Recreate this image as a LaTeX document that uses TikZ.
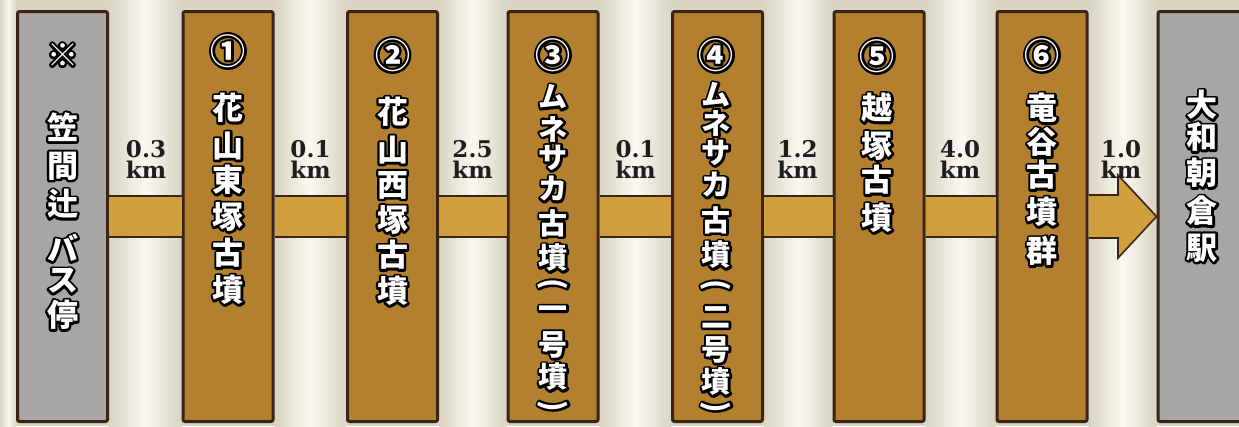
\documentclass[tikz,border=0pt]{standalone}
\usepackage{fontspec}
\newfontfamily\jpfont{Noto Sans CJK JP}
\newfontfamily\numfont{DejaVu Serif}
\usetikzlibrary{calc}
\pgfdeclarelayer{background}
\pgfsetlayers{background,main}
\definecolor{bgc}{HTML}{D9D4C3}
\definecolor{bglight}{HTML}{FAF8F0}
\definecolor{brownbox}{HTML}{B38030}
\definecolor{graybox}{HTML}{A7A6A5}
\definecolor{darkb}{HTML}{3A2416}
\definecolor{gold}{HTML}{CF9F3E}
\definecolor{labc}{HTML}{1E1E1E}
% white glyph over a black, thickly stroked copy of itself
\newcommand\oc[1]{\leavevmode\rlap{\special{pdf:literal direct 2 Tr 4.6 w 1 j}\textcolor{black}{#1}\special{pdf:literal direct 0 Tr}}#1}
\newcommand\vtext[4]{\foreach \yy/\ch [count=\k] in {#4} {\node[#2] (#1-\k) at (#3,\yy) {\oc{\ch}};}}
\tikzset{
  boxbase/.style={draw=darkb, line width=3pt, rounded corners=2pt, minimum width=90pt, minimum height=410pt, inner sep=0pt},
  brownb/.style={boxbase, fill=brownbox},
  grayb/.style={boxbase, fill=graybox},
  jpbig/.style={font=\jpfont\bfseries\fontsize{31}{31}\selectfont, text=white, inner sep=0pt},
  jpsmall/.style={font=\jpfont\bfseries\fontsize{29}{29}\selectfont, text=white, inner sep=0pt},
  circnum/.style={font=\jpfont\bfseries\fontsize{35}{35}\selectfont, text=white, inner sep=0pt},
  vparen/.style={jpsmall, rotate=-90},
  dist/.style={font=\numfont\bfseries\fontsize{23}{21}\selectfont, text=labc, align=center, inner sep=0pt},
  band/.style={draw=darkb, line width=1.6pt, double=gold, double distance=39pt},
  arrowband/.style={draw=darkb, line width=1.6pt, fill=gold, line join=miter},
  gapshade/.style={left color=bgc, right color=bgc, middle color=bglight}
}
\begin{document}
\begin{tikzpicture}[x=1pt,y=-1pt]
\useasboundingbox (0,0) rectangle (1239,426);
% boxes
\node[grayb]  (b1) at (62.5,216.5) {};
\node[brownb] (b2) at (228,216.5) {};
\node[brownb] (b3) at (392.5,216.5) {};
\node[brownb] (b4) at (553,216.5) {};
\node[brownb] (b5) at (717.5,216.5) {};
\node[brownb] (b6) at (879,216.5) {};
\node[brownb] (b7) at (1042,216.5) {};
\node[grayb, minimum width=120pt] (b8) at (1218,216.5) {};
% background
\begin{pgfonlayer}{background}
\fill[bgc] (0,0) rectangle (1239,426);
\shade[gapshade] (0,0) rectangle (b1.west |- 0,426);
\foreach \a/\b in {b1/b2,b2/b3,b3/b4,b4/b5,b5/b6,b6/b7,b7/b8}
  \shade[gapshade] (\a.east |- 0,0) rectangle (\b.west |- 0,426);
\end{pgfonlayer}
% bands
\draw[band] (b1.east) -- (b2.west);
\draw[band] (b2.east) -- (b3.west);
\draw[band] (b3.east) -- (b4.west);
\draw[band] (b4.east) -- (b5.west);
\draw[band] (b5.east) -- (b6.west);
\draw[band] (b6.east) -- (b7.west);
\draw[arrowband] (b7.east |- 0,195) -- (1118,195) -- (1118,175) -- (b8.west) -- (1118,258) -- (1118,238) -- (b7.east |- 0,238);
% distance labels
\node[dist] (d1) at (146,159) {0.3\\km};
\node[dist] (d2) at (310.5,159) {0.1\\km};
\node[dist] (d3) at (472.5,159) {2.5\\km};
\node[dist] (d4) at (635.5,159) {0.1\\km};
\node[dist] (d5) at (797.5,159) {1.2\\km};
\node[dist] (d6) at (960,159) {4.0\\km};
\node[dist] (d7) at (1121,159) {1.0\\km};
% circled numbers
\node[circnum] (n1) at (228,51) {\oc{①}};
\node[circnum] (n2) at (392.5,55) {\oc{②}};
\node[circnum] (n3) at (553,55) {\oc{③}};
\node[circnum] (n4) at (716,55) {\oc{④}};
\node[circnum] (n5) at (877,56) {\oc{⑤}};
\node[circnum] (n6) at (1042,55) {\oc{⑥}};
% vertical texts
\vtext{t1}{jpbig}{62.5}{55/※,127/笠,166/間,204/辻,248/バ,281/ス,315/停}
\vtext{t2}{jpbig}{228}{108/花,146/山,180/東,217/塚,253/古,290/墳}
\vtext{t3}{jpbig}{392.5}{112/花,150/山,185/西,220/塚,255/古,291/墳}
\vtext{t4}{jpsmall}{553}{97/ム,129/ネ,158/サ,189/カ,223/古,258/墳,313/一,345/号,377/墳}
\vtext{t5}{jpsmall}{716}{95/ム,123/ネ,153/サ,185/カ,220/古,255/墳,317/二,350/号,382/墳}
\vtext{t6}{jpbig}{877}{108/越,146/塚,180/古,218/墳}
\vtext{t7}{jpbig}{1042}{108/竜,142/谷,175/古,212/墳,251/群}
\vtext{t8}{jpbig}{1202}{105/大,137/和,173/朝,211/倉,248/駅}
% vertical parentheses
\node[vparen] (p4a) at (553,284) {\oc{(}};
\node[vparen] (p4b) at (553,406) {\oc{)}};
\node[vparen] (p5a) at (716,285) {\oc{(}};
\node[vparen] (p5b) at (716,407) {\oc{)}};
\end{tikzpicture}
\end{document}
